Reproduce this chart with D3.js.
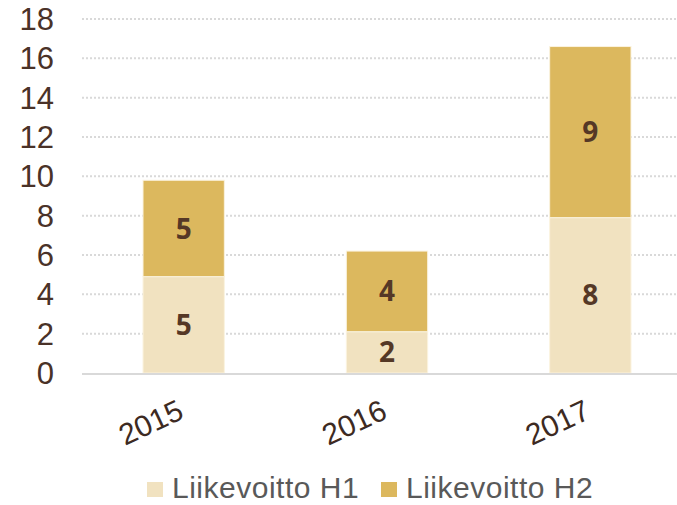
<!DOCTYPE html>
<html>
<head>
<meta charset="utf-8">
<script src="https://cdn.jsdelivr.net/npm/d3@7"></script>
<style>
  body { margin: 0; background: #fff; }
  svg { display: block; font-family: "Liberation Sans", Arial, sans-serif; }
</style>
</head>
<body>
<div id="chart"></div>
<script>
// chart values
var years = ['2015', '2016', '2017'];
var h1 = [4.9, 2.1, 7.9];
var h2 = [4.9, 4.1, 8.7];
var h1Labels = ['5', '2', '8'];
var h2Labels = ['5', '4', '9'];
var yTicks = [0, 2, 4, 6, 8, 10, 12, 14, 16, 18];
var seriesNames = ['Liikevoitto H1', 'Liikevoitto H2'];
var colors = ['#f1e2c0', '#dcb85e'];

var width = 677, height = 505;

var svg = d3.select('#chart').append('svg')
  .attr('width', width)
  .attr('height', height);

var x = d3.scaleBand()
  .domain(years)
  .range([82, 692])
  .paddingInner(0.6)
  .paddingOuter(0.3);

var y = d3.scaleLinear()
  .domain([0, 18])
  .range([373, 19]);

// dotted gridlines
svg.append('g')
  .selectAll('line')
  .data(yTicks.filter(function(d) { return d > 0; }))
  .enter().append('line')
  .attr('x1', 82)
  .attr('x2', 677)
  .attr('y1', function(d) { return y(d); })
  .attr('y2', function(d) { return y(d); })
  .attr('stroke', '#d9d9d9')
  .attr('stroke-width', 2)
  .attr('stroke-dasharray', '2,2');

// y tick labels
svg.append('g')
  .selectAll('text')
  .data(yTicks)
  .enter().append('text')
  .attr('x', 54)
  .attr('y', function(d) { return y(d); })
  .attr('dy', '0.36em')
  .attr('text-anchor', 'end')
  .attr('font-size', 31)
  .attr('fill', '#4a3228')
  .text(function(d) { return d; });

// stacked bars
var rows = years.map(function(yr, i) {
  return { year: yr, h1: h1[i], h2: h2[i], l1: h1Labels[i], l2: h2Labels[i] };
});
var stack = d3.stack().keys(['h1', 'h2']);
var layers = stack(rows);
var labelKeys = { h1: 'l1', h2: 'l2' };

layers.forEach(function(layer, li) {
  var g = svg.append('g');
  g.selectAll('rect')
    .data(layer)
    .enter().append('rect')
    .attr('x', function(d) { return x(d.data.year); })
    .attr('y', function(d) { return y(d[1]); })
    .attr('width', x.bandwidth())
    .attr('height', function(d) { return y(d[0]) - y(d[1]); })
    .attr('fill', colors[li])
    .attr('stroke', '#fbf3df')
    .attr('stroke-width', 1);

  g.selectAll('text')
    .data(layer)
    .enter().append('text')
    .attr('x', function(d) { return x(d.data.year) + x.bandwidth() / 2; })
    .attr('y', function(d) { return (y(d[0]) + y(d[1])) / 2; })
    .attr('dy', '0.36em')
    .attr('text-anchor', 'middle')
    .attr('font-family', '"Open Sans", "Noto Sans", sans-serif')
    .attr('font-weight', 'bold')
    .attr('font-size', 28)
    .attr('fill', '#553826')
    .text(function(d) { return d.data[labelKeys[layer.key]]; });
});

// x axis baseline
svg.append('line')
  .attr('x1', 82)
  .attr('x2', 677)
  .attr('y1', y(0) + 1)
  .attr('y2', y(0) + 1)
  .attr('stroke', '#d9d9d9')
  .attr('stroke-width', 2);

// rotated year labels, centred a little left of each bar
svg.append('g')
  .selectAll('text')
  .data(years)
  .enter().append('text')
  .attr('transform', function(d) {
    return 'translate(' + (x(d) + x.bandwidth() / 2 - 33) + ',422) rotate(-25)';
  })
  .attr('dy', '0.36em')
  .attr('text-anchor', 'middle')
  .attr('font-size', 30)
  .attr('fill', '#3d2a22')
  .text(function(d) { return d; });

// legend
var legendX = [147, 381];
var legend = svg.append('g')
  .selectAll('g')
  .data(seriesNames)
  .enter().append('g')
  .attr('transform', function(d, i) { return 'translate(' + legendX[i] + ',482)'; });

legend.append('rect')
  .attr('width', 16)
  .attr('height', 15)
  .attr('fill', function(d, i) { return colors[i]; });

legend.append('text')
  .attr('x', 25)
  .attr('y', 16)
  .attr('font-size', 30)
  .attr('letter-spacing', 0.5)
  .attr('fill', '#595959')
  .text(function(d) { return d; });
</script>
</body>
</html>
